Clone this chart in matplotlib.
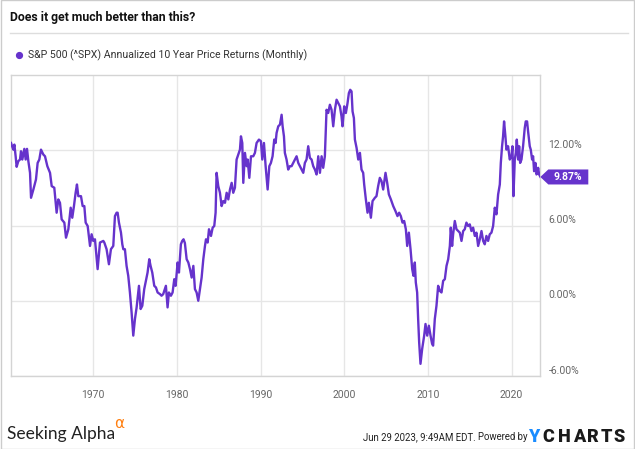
import matplotlib
matplotlib.use("Agg")
import matplotlib.pyplot as plt
from matplotlib.patches import Polygon, Rectangle
from matplotlib.transforms import ScaledTranslation, IdentityTransform
from matplotlib.lines import Line2D

# ---------------- data ----------------
years = [
    1960.17, 1960.33, 1960.45, 1960.57, 1960.72, 1960.84, 1961.04, 1961.24, 1961.36, 1961.52,
    1961.76, 1961.92, 1962.08, 1962.24, 1962.44, 1962.56, 1962.84, 1963.15, 1963.35, 1963.55,
    1963.75, 1964.03, 1964.23, 1964.51, 1964.83, 1965.03, 1965.34, 1965.62, 1965.82, 1966.02,
    1966.22, 1966.54, 1966.74, 1967.02, 1967.30, 1967.49, 1967.69, 1967.89, 1968.05, 1968.21,
    1968.53, 1968.73, 1968.93, 1969.09, 1969.33, 1969.61, 1969.80, 1970.00, 1970.20, 1970.52,
    1970.80, 1971.20, 1971.32, 1971.59, 1971.87, 1972.11, 1972.39, 1972.59, 1972.79, 1972.91,
    1973.07, 1973.31, 1973.47, 1973.59, 1973.78, 1973.98, 1974.18, 1974.38, 1974.58, 1974.78,
    1974.98, 1975.18, 1975.46, 1975.66, 1975.86, 1976.09, 1976.25, 1976.49, 1976.69, 1976.85,
    1977.05, 1977.29, 1977.49, 1977.69, 1977.97, 1978.16, 1978.36, 1978.56, 1978.68, 1978.88,
    1979.04, 1979.28, 1979.48, 1979.68, 1979.84, 1980.08, 1980.24, 1980.47, 1980.63, 1980.79,
    1980.95, 1981.16, 1981.36, 1981.56, 1981.76, 1981.96, 1982.15, 1982.35, 1982.55, 1982.75,
    1982.95, 1983.15, 1983.35, 1983.47, 1983.67, 1983.83, 1984.07, 1984.27, 1984.46, 1984.62,
    1984.74, 1984.94, 1985.14, 1985.34, 1985.54, 1985.74, 1985.94, 1986.14, 1986.34, 1986.54,
    1986.73, 1986.93, 1987.13, 1987.33, 1987.53, 1987.65, 1987.81, 1987.93, 1988.13, 1988.33,
    1988.45, 1988.65, 1988.85, 1989.12, 1989.32, 1989.52, 1989.80, 1990.04, 1990.20, 1990.40,
    1990.60, 1990.84, 1991.04, 1991.23, 1991.43, 1991.63, 1991.79, 1991.91, 1992.11, 1992.31,
    1992.51, 1992.63, 1992.79, 1992.90, 1993.10, 1993.30, 1993.50, 1993.70, 1993.90, 1994.10,
    1994.30, 1994.50, 1994.70, 1994.90, 1995.10, 1995.29, 1995.49, 1995.69, 1995.89, 1996.09,
    1996.29, 1996.49, 1996.69, 1996.89, 1997.09, 1997.29, 1997.48, 1997.68, 1997.88, 1998.08,
    1998.28, 1998.48, 1998.68, 1998.88, 1999.08, 1999.28, 1999.48, 1999.67, 1999.79, 1999.99,
    2000.19, 2000.39, 2000.55, 2000.71, 2000.87, 2000.99, 2001.15, 2001.27, 2001.47, 2001.67,
    2001.87, 2002.06, 2002.26, 2002.38, 2002.58, 2002.78, 2002.94, 2003.18, 2003.38, 2003.66,
    2003.85, 2004.05, 2004.25, 2004.45, 2004.65, 2004.93, 2005.13, 2005.33, 2005.57, 2005.85,
    2006.12, 2006.36, 2006.56, 2006.76, 2006.96, 2007.16, 2007.36, 2007.52, 2007.72, 2007.92,
    2008.12, 2008.27, 2008.43, 2008.55, 2008.71, 2008.83, 2008.95, 2009.11, 2009.31, 2009.55,
    2009.71, 2009.91, 2010.11, 2010.31, 2010.50, 2010.62, 2010.82, 2011.02, 2011.22, 2011.42,
    2011.62, 2011.82, 2012.02, 2012.22, 2012.42, 2012.62, 2012.73, 2012.89, 2013.01, 2013.21,
    2013.41, 2013.61, 2013.81, 2014.01, 2014.21, 2014.40, 2014.60, 2014.80, 2015.00, 2015.20,
    2015.40, 2015.60, 2015.80, 2016.00, 2016.20, 2016.40, 2016.60, 2016.79, 2016.99, 2017.19,
    2017.39, 2017.59, 2017.79, 2017.99, 2018.19, 2018.39, 2018.59, 2018.71, 2018.86, 2018.98,
    2019.10, 2019.26, 2019.38, 2019.58, 2019.78, 2019.98, 2020.10, 2020.22, 2020.38, 2020.50,
    2020.62, 2020.78, 2020.90, 2021.02, 2021.18, 2021.37, 2021.57, 2021.69, 2021.85, 2021.97,
    2022.17, 2022.29, 2022.45, 2022.57, 2022.69, 2022.85, 2022.97, 2023.09, 2023.17, 2023.29,
    2023.45,
]

returns_pct = [
    12.58, 12.26, 12.05, 12.45, 11.52, 10.68, 11.13, 11.26, 11.92, 11.26,
    12.11, 11.26, 12.11, 11.13, 10.20, 8.21, 8.87, 9.67, 10.99, 11.26,
    12.05, 11.66, 11.52, 10.73, 10.20, 9.14, 9.01, 7.02, 8.08, 7.81,
    6.49, 6.23, 5.03, 5.70, 7.42, 6.62, 7.55, 8.61, 9.27, 8.34,
    8.34, 7.55, 7.55, 6.23, 5.96, 4.37, 5.30, 4.77, 4.90, 2.52,
    4.64, 4.77, 4.64, 4.11, 2.91, 4.11, 4.37, 6.75, 7.02, 7.02,
    6.23, 5.43, 4.50, 4.11, 4.11, 2.78, 1.99, 0.66, -0.93, -2.78,
    -1.46, -0.53, 1.19, -0.66, -0.40, 0.93, 1.46, 2.25, 3.31, 2.78,
    2.25, 1.19, 1.06, 0.66, 0.53, 0.40, 0.53, 0.93, 1.19, -0.53,
    0.66, 0.40, 0.66, 1.72, 1.19, 3.05, 2.25, 4.50, 4.77, 4.90,
    4.60, 3.31, 3.05, 2.52, 1.85, 2.78, 0.93, 0.66, 0.00, 0.93,
    1.85, 3.31, 4.37, 4.90, 4.64, 5.70, 5.17, 5.83, 5.96, 7.02,
    10.20, 9.14, 8.61, 7.55, 7.95, 7.81, 8.61, 8.08, 8.87, 9.40,
    8.61, 9.01, 11.26, 11.66, 12.05, 13.11, 12.58, 9.40, 11.79, 10.73,
    11.26, 9.80, 11.52, 11.52, 11.79, 12.58, 12.85, 12.72, 11.26, 12.58,
    10.73, 8.87, 10.73, 10.99, 11.52, 12.85, 12.58, 13.38, 13.91, 14.04,
    14.83, 13.91, 13.11, 11.79, 11.26, 10.46, 10.73, 10.73, 10.99, 11.26,
    11.52, 10.99, 10.73, 10.46, 10.20, 10.99, 11.26, 12.32, 11.39, 11.26,
    10.73, 10.46, 10.07, 11.52, 10.20, 11.52, 10.60, 11.52, 15.23, 14.97,
    15.63, 15.23, 13.91, 15.23, 16.03, 15.76, 15.50, 14.70, 13.91, 15.50,
    14.97, 15.76, 16.56, 16.82, 16.69, 15.10, 14.57, 12.85, 12.19, 11.26,
    11.79, 10.46, 10.20, 9.27, 8.08, 7.02, 7.81, 6.62, 7.95, 8.21,
    8.34, 9.14, 9.80, 9.54, 8.87, 10.20, 9.40, 8.48, 8.08, 7.55,
    7.15, 6.75, 7.02, 6.75, 6.23, 6.36, 5.70, 4.37, 5.43, 4.11,
    2.52, 1.99, 3.05, 1.46, 0.66, -1.46, -3.31, -5.03, -3.84, -2.78,
    -1.85, -2.78, -1.99, -2.78, -3.44, -3.58, -1.46, -0.40, 1.19, 0.79,
    0.66, 1.59, 1.72, 2.78, 3.31, 4.37, 5.83, 4.37, 5.30, 6.36,
    5.70, 5.56, 5.43, 4.77, 5.56, 5.70, 6.23, 5.96, 6.09, 5.56,
    5.83, 5.17, 5.43, 4.37, 4.90, 5.56, 4.77, 4.50, 5.17, 4.77,
    5.30, 5.43, 5.96, 7.42, 6.89, 8.48, 9.27, 10.99, 12.32, 13.11,
    14.30, 13.11, 12.05, 12.32, 11.26, 11.52, 12.32, 8.34, 11.26, 11.79,
    12.85, 11.26, 12.32, 10.99, 11.26, 12.32, 13.77, 14.30, 14.30, 13.51,
    12.32, 12.05, 11.26, 11.52, 10.33, 10.99, 10.07, 10.20, 10.60, 10.07,
    9.87,
]

x_ticks = [1970, 1980, 1990, 2000, 2010, 2020]
x_tick_labels = ["1970", "1980", "1990", "2000", "2010", "2020"]
y_ticks = [-6, 0, 6, 12]
y_tick_labels = ["-6.00%", "0.00%", "6.00%", "12.00%"]

title = "Does it get much better than this?"
series_name = "S&P 500 (^SPX) Annualized 10 Year Price Returns (Monthly)"
last_label = "9.87%"

# ---------------- style ----------------
PURPLE = "#6633cc"
GRID = "#e6e6e6"
BORDER = "#d4d4d4"
TICK = "#666666"
FONT = ["Roboto", "DejaVu Sans"]
plt.rcParams["font.family"] = FONT

W, H = 635, 449
fig = plt.figure(figsize=(W / 100, H / 100), dpi=100)

def fx(px):
    return px / W

def fy(py):
    return 1 - py / H

# axes: left 10.7, right 540.3, top 75, bottom 376 (pixels)
L, R, T, B = 10.7, 540.3, 75.0, 376.0
ax = fig.add_axes([fx(L), fy(B), fx(R - L), (B - T) / H])
ax.set_xlim(1960.13, 2023.43)
ax.set_ylim(-6, 18)

for s in ax.spines.values():
    s.set_color(BORDER)
    s.set_linewidth(1.0)

ax.set_xticks(x_ticks)
ax.set_xticklabels(x_tick_labels)
ax.set_yticks(y_ticks)
ax.set_yticklabels(y_tick_labels)
ax.yaxis.tick_right()
ax.tick_params(axis="both", length=0, colors=TICK, labelsize=7.5)
ax.tick_params(axis="x", pad=10)
ax.tick_params(axis="y", pad=6)
for lab in ax.get_yticklabels():
    lab.set_transform(lab.get_transform() + ScaledTranslation(0, 6.5 / 100, fig.dpi_scale_trans))
    lab.set_ha("left")

ax.grid(True, color=GRID, linewidth=1.0)
ax.set_axisbelow(True)

ax.plot(years, returns_pct, color=PURPLE, linewidth=1.7, solid_joinstyle="round", zorder=3)

# last-value label
fig.canvas.draw()
px_last, py_last = ax.transData.transform((years[-1], returns_pct[-1]))
px_tip = ax.transAxes.transform((1, 0))[0]
hh = 7.5
poly = Polygon([[px_tip, py_last], [px_tip + 8, py_last + hh], [px_tip + 48, py_last + hh],
                [px_tip + 48, py_last - hh], [px_tip + 8, py_last - hh]],
               closed=True, facecolor=PURPLE, edgecolor="none", transform=IdentityTransform())
fig.add_artist(poly)
fig.text(px_tip + 28, py_last, last_label, transform=IdentityTransform(), ha="center", va="center",
         color="white", fontsize=7.5, fontweight="bold")

# title and legend
fig.text(fx(10.5), fy(21), title, ha="left", va="baseline", fontsize=8.8, fontweight="bold", color="#111111")
fig.add_artist(Line2D([fx(10), fx(628)], [fy(33.3), fy(33.3)], color="#dddddd", linewidth=1.0))
fig.add_artist(Line2D([fx(19)], [fy(55)], marker="o", markersize=4.2, color=PURPLE, linestyle="none"))
fig.text(fx(28.5), fy(55), series_name, ha="left", va="center", fontsize=7.6, color="#333333")

# footer
fig.text(fx(7), fy(439), "Seeking Alpha", ha="left", va="baseline", fontsize=12.5,
         family=["Lato", "DejaVu Sans"], color="#222222")
fig.text(fx(114), fy(428), "\u03b1", ha="left", va="baseline", fontsize=11,
         family=["DejaVu Sans"], color="#ff7f0f")
fig.text(fx(363), fy(437), "Jun 29 2023, 9:49AM EDT.", ha="left", va="center", fontsize=6.9, color="#222222")
fig.text(fx(478), fy(437), "Powered by", ha="left", va="center", fontsize=6.9, color="#222222")
yc_letters = ["Y", "C", "H", "A", "R", "T", "S"]
yc_centers = [534.5, 548.3, 564, 579, 593, 606, 619]
for ch, cx in zip(yc_letters, yc_centers):
    fig.text(fx(cx), fy(437), ch, ha="center", va="center", fontsize=13, fontweight="black",
             color="#1a8cff" if ch == "Y" else "#1a1a1a")

# outer border
fig.add_artist(Rectangle((0.0008, 0.001), 0.9984, 0.998, transform=fig.transFigure, fill=False,
                         edgecolor="#cccccc", linewidth=1.0))

fig.savefig("out.png", dpi=100)
